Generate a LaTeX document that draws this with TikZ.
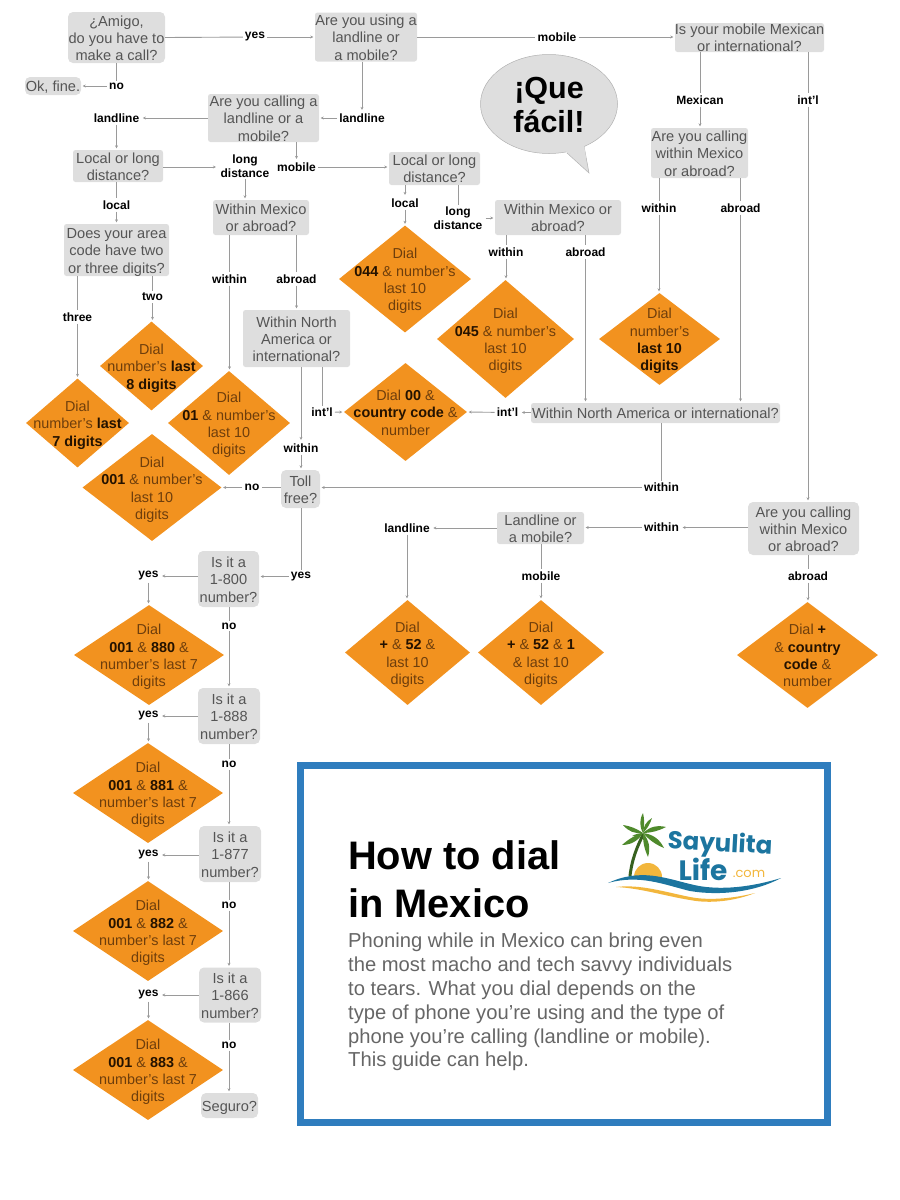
\documentclass[tikz,border=0pt]{standalone}
\usepackage{fontspec}
\setmainfont{Liberation Sans}
\newfontfamily\logofont{Poppins}
\usetikzlibrary{shapes.geometric,arrows.meta}
\definecolor{boxfill}{HTML}{DEDEDE}
\definecolor{qtext}{HTML}{555555}
\definecolor{dfill}{HTML}{F2921F}
\definecolor{dtext}{HTML}{6E3E0C}
\definecolor{dbold}{HTML}{241200}
\definecolor{wire}{HTML}{9A9A9A}
\definecolor{frame}{HTML}{2F7DBE}
\definecolor{palm}{HTML}{4F8A2C}
\definecolor{sea}{HTML}{1C759F}
\definecolor{sand}{HTML}{F2B63C}
\newcommand\lns[1]{\smash{\makebox[0pt]{\raisebox{-6pt}{\begin{tabular}{@{}c@{}}#1\end{tabular}}}}}
\newcommand\bd[1]{{\bfseries\color{dbold}#1}}
\tikzset{
  x=1pt,y=-1pt,
  qb/.style={rectangle,fill=boxfill,rounded corners=2.5pt,inner sep=0pt,text=qtext,
     font=\fontsize{14.6}{17.2}\selectfont},
  qr/.style={qb,rounded corners=5pt},
  dia/.style={diamond,fill=dfill,inner sep=0pt,aspect=1,text=dtext,
     font=\fontsize{14.4}{17.3}\selectfont},
  lab/.style={inner sep=2pt,align=center,text=black,
     font=\fontsize{12}{14}\selectfont\bfseries},
  ln/.style={draw=wire,line width=.9pt},
  ar/.style={ln,-{Stealth[length=3pt,width=3pt]},shorten >=1.5pt},
}
\begin{document}
\begin{tikzpicture}
\useasboundingbox (0,0) rectangle (900,1200);

% question boxes
\node[qr,minimum width=97pt,minimum height=51pt] (amigo) at (116.5,37.5) {\lns{¿Amigo,\\do you have to\\make a call?}};
\node[qr,minimum width=56pt,minimum height=18pt] (okfine) at (53,86) {\lns{Ok, fine.}};
\node[qb,minimum width=102pt,minimum height=49pt] (using) at (366,37) {\lns{Are you using a\\landline or\\a mobile?}};
\node[qb,minimum width=149pt,minimum height=29pt] (mexmob) at (749.5,37.5) {\lns{Is your mobile Mexican\\or international?}};
\node[qb,minimum width=111pt,minimum height=48pt] (calling) at (263.5,118) {\lns{Are you calling a\\landline or a\\mobile?}};
\node[qb,minimum width=90pt,minimum height=32pt] (localL) at (118,166) {\lns{Local or long\\distance?}};
\node[qb,minimum width=91pt,minimum height=33pt] (localR) at (434.5,168.5) {\lns{Local or long\\distance?}};
\node[qb,minimum width=96pt,minimum height=35pt] (withinL) at (261,217.5) {\lns{Within Mexico\\or abroad?}};
\node[qb,minimum width=126pt,minimum height=35pt] (withinR) at (558,217.5) {\lns{Within Mexico or\\abroad?}};
\node[qb,minimum width=105pt,minimum height=52pt] (area) at (116.5,250) {\lns{Does your area\\code have two\\or three digits?}};
\node[qb,minimum width=97pt,minimum height=50pt] (mexabroad) at (699.5,153) {\lns{Are you calling\\within Mexico\\or abroad?}};
\node[qb,minimum width=107pt,minimum height=57pt] (naL) at (296.5,338.5) {\lns{Within North\\America or\\international?}};
\node[qb,minimum width=249pt,minimum height=20pt] (naR) at (655.5,413) {\lns{Within North America or international?}};
\node[qr,minimum width=39pt,minimum height=38pt] (toll) at (300.5,489) {\lns{Toll\\free?}};
\node[qb,minimum width=87pt,minimum height=32pt] (landmob) at (540.5,528) {\lns{Landline or\\a mobile?}};
\node[qr,minimum width=111pt,minimum height=53pt] (intlabroad) at (803.5,528.5) {\lns{Are you calling\\within Mexico\\or abroad?}};
\node[qr,minimum width=61pt,minimum height=56pt] (n800) at (228.5,579) {\lns{Is it a\\1-800\\number?}};
\node[qr,minimum width=62pt,minimum height=56pt] (n888) at (229,716) {\lns{Is it a\\1-888\\number?}};
\node[qr,minimum width=62pt,minimum height=56pt] (n877) at (230,854) {\lns{Is it a\\1-877\\number?}};
\node[qr,minimum width=62pt,minimum height=55pt] (n866) at (230,995) {\lns{Is it a\\1-866\\number?}};
\node[qr,minimum width=57pt,minimum height=25pt] (seguro) at (229.5,1105.5) {\lns{Seguro?}};

% dial diamonds
\node[dia,minimum width=103pt,minimum height=89pt] (d7) at (77.5,423) {\lns{Dial\\number's \bd{last}\\\bd{7 digits}}};
\node[dia,minimum width=103pt,minimum height=89pt] (d8) at (151.5,366) {\lns{Dial\\number's \bd{last}\\\bd{8 digits}}};
\node[dia,minimum width=122pt,minimum height=104pt] (d01) at (229,423) {\lns{Dial\\\bd{01} \& number's\\last 10\\digits}};
\node[dia,minimum width=139pt,minimum height=107pt] (d001) at (152,487.5) {\lns{Dial\\\bd{001} \& number's\\last 10\\digits}};
\node[dia,minimum width=132pt,minimum height=107pt] (d044) at (405,279) {\lns{Dial\\\bd{044} \& number's\\last 10\\digits}};
\node[dia,minimum width=137pt,minimum height=118pt] (d045) at (505.5,339) {\lns{Dial\\\bd{045} \& number's\\last 10\\digits}};
\node[dia,minimum width=121pt,minimum height=92pt] (dlast) at (659.5,339) {\lns{Dial\\number's\\\bd{last 10}\\\bd{digits}}};
\node[dia,minimum width=123pt,minimum height=98pt] (d00) at (405.5,412) {\lns{Dial \bd{00} \&\\\bd{country code} \&\\number}};
\node[dia,minimum width=125pt,minimum height=105pt] (d52) at (407.5,652.5) {\lns{Dial\\\bd{+} \& \bd{52} \&\\last 10\\digits}};
\node[dia,minimum width=126pt,minimum height=105pt] (d521) at (541,652.5) {\lns{Dial\\\bd{+} \& \bd{52} \& \bd{1}\\\& last 10\\digits}};
\node[dia,minimum width=141pt,minimum height=106pt] (dplus) at (807.5,655) {\lns{Dial \bd{+}\\\& \bd{country}\\\bd{code} \&\\number}};
\node[dia,minimum width=150pt,minimum height=100pt] (d880) at (149,655) {\lns{Dial\\\bd{001} \& \bd{880} \&\\number's last 7\\digits}};
\node[dia,minimum width=150pt,minimum height=100pt] (d881) at (148,793) {\lns{Dial\\\bd{001} \& \bd{881} \&\\number's last 7\\digits}};
\node[dia,minimum width=150pt,minimum height=100pt] (d882) at (148,931) {\lns{Dial\\\bd{001} \& \bd{882} \&\\number's last 7\\digits}};
\node[dia,minimum width=150pt,minimum height=100pt] (d883) at (148,1070) {\lns{Dial\\\bd{001} \& \bd{883} \&\\number's last 7\\digits}};

% connector labels
\node[lab] (lyes1) at (255,37) {yes};
\node[lab] (lno1) at (116.5,86) {no};
\node[lab] (lmobile1) at (557,37) {mobile};
\node[lab] (lland1) at (362,118) {landline};
\node[lab] (lland2) at (116.5,118) {landline};
\node[lab,inner xsep=3pt] (lld1) at (245,166) {long\\[-.5pt]distance};
\node[lab] (lmobile2) at (296.5,167) {mobile};
\node[lab] (llocal1) at (116.5,205) {local};
\node[lab] (llocal2) at (405,203) {local};
\node[lab,inner xsep=3pt] (lld2) at (458,218) {long\\[-.5pt]distance};
\node[lab] (lmex) at (700,100) {Mexican};
\node[lab] (lintl1) at (808,100) {int'l};
\node[lab] (lwithin1) at (659,208) {within};
\node[lab] (labroad1) at (740.5,208) {abroad};
\node[lab] (lwithin2) at (506,252) {within};
\node[lab] (labroad2) at (585.5,252) {abroad};
\node[lab] (lwithin3) at (229.5,279) {within};
\node[lab] (labroad3) at (296.5,279) {abroad};
\node[lab] (lthree) at (77.5,317) {three};
\node[lab] (ltwo) at (152.5,297) {two};
\node[lab] (lintl2) at (322,412.5) {int'l};
\node[lab] (lintl3) at (507.5,412.5) {int'l};
\node[lab] (lwithin4) at (301,448) {within};
\node[lab] (lwithin5) at (661.5,487.5) {within};
\node[lab] (lwithin6) at (661.5,527.5) {within};
\node[lab] (lno2) at (252,487.5) {no};
\node[lab] (lyes2) at (301,576.5) {yes};
\node[lab] (lland3) at (407,528) {landline};
\node[lab] (lmobile3) at (541,576) {mobile};
\node[lab] (labroad4) at (808,576) {abroad};
\node[lab] (lyes3) at (148.5,576) {yes};
\node[lab] (lno3) at (229,626) {no};
\node[lab] (lyes4) at (148.5,716) {yes};
\node[lab] (lno4) at (229,764) {no};
\node[lab] (lyes5) at (148.5,855) {yes};
\node[lab] (lno5) at (229,905) {no};
\node[lab] (lyes6) at (148.5,995) {yes};
\node[lab] (lno6) at (229,1045) {no};

% connectors
\draw[ln] (amigo.east) -- (lyes1);
\draw[ar] (lyes1) -- (using.west |- lyes1);
\draw[ln] (amigo.south) -- (lno1);
\draw[ar] (lno1) -- (okfine.east |- lno1);
\draw[ln] (using.east |- lmobile1) -- (lmobile1);
\draw[ar] (lmobile1) -- (mexmob.west |- lmobile1);
\draw[ar] (lland1 |- using.south) -- (lland1);
\draw[ar] (lland1) -- (calling.east |- lland1);
\draw[ar] (calling.west |- lland2) -- (lland2);
\draw[ar] (lland2) -- (lland2 |- localL.north);
\draw[ar] (lmobile2 |- calling.south) -- (lmobile2);
\draw[ar] (lmobile2) -- (localR.west |- lmobile2);
\draw[ar] (localL.east |- lmobile2) -- (lld1.west |- lmobile2);
\draw[ar] (lld1) -- (lld1 |- withinL.north);
\draw[ln] (llocal1 |- localL.south) -- (llocal1);
\draw[ar] (llocal1) -- (llocal1 |- area.north);
\draw[ln] (lthree |- area.south) -- (lthree);
\draw[ar] (lthree) -- (lthree |- d7.north);
\draw[ln] (ltwo |- area.south) -- (ltwo);
\draw[ar] (ltwo) -- (ltwo |- d8.north);
\draw[ln] (lwithin3 |- withinL.south) -- (lwithin3);
\draw[ar] (lwithin3) -- (lwithin3 |- d01.north);
\draw[ln] (labroad3 |- withinL.south) -- (labroad3);
\draw[ar] (labroad3) -- (labroad3 |- naL.north);
\draw[ar] (lwithin4 |- naL.south) -- (lwithin4);
\draw[ar] (lwithin4) -- (lwithin4 |- toll.north);
\draw[ln] (lintl2 |- naL.south) -- (lintl2);
\draw[ar] (lintl2) -- (d00.west);
\draw[ln] (toll.west |- lno2) -- (lno2);
\draw[ar] (lno2) -- (d001.east);
\draw[ln] (lyes2 |- toll.south) -- (lyes2);
\draw[ar] (lyes2) -- (n800.east |- lyes2);
\draw[ar] (llocal2 |- localR.south) -- (llocal2);
\draw[ar] (llocal2) -- (d044.north);
\draw[ln] (lld2 |- localR.south) -- (lld2);
\draw[ar] (lld2) -- (withinR.west |- lld2);
\draw[ln] (lwithin2 |- withinR.south) -- (lwithin2);
\draw[ar] (lwithin2) -- (lwithin2 |- d045.north);
\draw[ln] (labroad2 |- withinR.south) -- (labroad2);
\draw[ar] (labroad2) -- (labroad2 |- naR.north);
\draw[ln] (lmex |- mexmob.south) -- (lmex);
\draw[ar] (lmex) -- (lmex |- mexabroad.north);
\draw[ln] (lintl1 |- mexmob.south) -- (lintl1);
\draw[ar] (lintl1) -- (lintl1 |- intlabroad.north);
\draw[ln] (lwithin1 |- mexabroad.south) -- (lwithin1);
\draw[ar] (lwithin1) -- (lwithin1 |- dlast.north);
\draw[ln] (labroad1 |- mexabroad.south) -- (labroad1);
\draw[ar] (labroad1) -- (labroad1 |- naR.north);
\draw[ar] (naR.west |- lintl3) -- (lintl3);
\draw[ar] (lintl3) -- (d00.east);
\draw[ln] (lwithin5 |- naR.south) -- (lwithin5);
\draw[ar] (lwithin5) -- (toll.east |- lwithin5);
\draw[ar] (intlabroad.west |- lwithin6) -- (lwithin6);
\draw[ar] (lwithin6) -- (landmob.east |- lwithin6);
\draw[ar] (landmob.west |- lland3) -- (lland3);
\draw[ar] (lland3) -- (lland3 |- d52.north);
\draw[ln] (lmobile3 |- landmob.south) -- (lmobile3);
\draw[ar] (lmobile3) -- (d521.north);
\draw[ln] (labroad4 |- intlabroad.south) -- (labroad4);
\draw[ar] (labroad4) -- (labroad4 |- dplus.north);
\draw[ar] (n800.west |- lyes3) -- (lyes3);
\draw[ar] (lyes3) -- (lyes3 |- d880.north);
\draw[ln] (lno3 |- n800.south) -- (lno3);
\draw[ar] (lno3) -- (lno3 |- n888.north);
\draw[ar] (n888.west |- lyes4) -- (lyes4);
\draw[ar] (lyes4) -- (lyes4 |- d881.north);
\draw[ln] (lno4 |- n888.south) -- (lno4);
\draw[ar] (lno4) -- (lno4 |- n877.north);
\draw[ar] (n877.west |- lyes5) -- (lyes5);
\draw[ar] (lyes5) -- (lyes5 |- d882.north);
\draw[ln] (lno5 |- n877.south) -- (lno5);
\draw[ar] (lno5) -- (lno5 |- n866.north);
\draw[ar] (n866.west |- lyes6) -- (lyes6);
\draw[ar] (lyes6) -- (lyes6 |- d883.north);
\draw[ln] (lno6 |- n866.south) -- (lno6);
\draw[ar] (lno6) -- (lno6 |- seguro.north);

% speech bubble
\draw[fill=boxfill,draw=boxfill!80!black,line width=.5pt] (567,153) -- (589,173) -- (584,146) -- cycle;
\fill[boxfill,draw=boxfill!80!black,line width=.5pt] (549,104) ellipse[x radius=68.5,y radius=49.5];
\fill[boxfill] (567,152.5) -- (586,158) -- (584,145) -- (565,150) -- cycle;
\node[inner sep=0pt,align=center,font=\fontsize{30.5}{34}\selectfont\bfseries,text=black] (quefacil) at (549,105) {¡Que\\fácil!};

% title panel
\draw[frame,line width=7pt] (300.5,765.5) rectangle (827.5,1122.5);
\node[anchor=north west,inner sep=0pt,align=left,font=\fontsize{39.8}{48}\selectfont\bfseries,text=black] (title) at (348,840) {How to dial\\in Mexico};
\node[anchor=north west,inner sep=0pt,align=left,font=\fontsize{20.2}{23.8}\selectfont,text=black!60] (blurb) at (348,933) {Phoning while in Mexico can bring even\\the most macho and tech savvy individuals\\to tears. What you dial depends on the\\type of phone you’re using and the type of\\phone you’re calling (landline or mobile).\\This guide can help.};

% logo
\fill[sand] (648,877) circle[radius=14];
\draw[line width=3pt,draw=palm!70!black,line cap=round] (630,876) .. controls (632,858) and (638,845) .. (643,835);
\foreach \ex/\ey in {643/813,623/825,622/845,648/857,664/848,666/827,652/818,632/836}{
  \fill[palm] (643,833) to[bend left=28] (\ex,\ey) to[bend left=12] (643,833);
}
\fill[white] (600,880) -- (608,884) .. controls (640,868) and (660,880) .. (690,889) .. controls (720,897) and (755,888) .. (782,878) -- (790,900) -- (600,900) -- cycle;
\fill[sea] (608,883) .. controls (640,868) and (665,878) .. (690,884) .. controls (720,892) and (755,886) .. (781,878) .. controls (755,892) and (720,896) .. (690,891) .. controls (665,885) and (640,874) .. (608,883) -- cycle;
\fill[sand] (616,887) .. controls (640,884) and (665,892) .. (690,897) .. controls (710,901) and (735,898) .. (755,893) .. controls (735,901) and (710,904) .. (690,900) .. controls (665,896) and (640,888) .. (616,887) -- cycle;
\node[inner sep=0pt,text=sea,font=\logofont\bfseries\fontsize{24.5}{25}\selectfont,rotate=-3] (sayulita) at (720,845) {Sayulita};
\node[inner sep=0pt,text=sea,font=\logofont\bfseries\fontsize{28}{28}\selectfont] (life) at (703,869) {Life};
\node[inner sep=0pt,text=sand,font=\logofont\fontsize{13}{13}\selectfont] (dotcom) at (749,874) {.com};
\end{tikzpicture}
\end{document}
